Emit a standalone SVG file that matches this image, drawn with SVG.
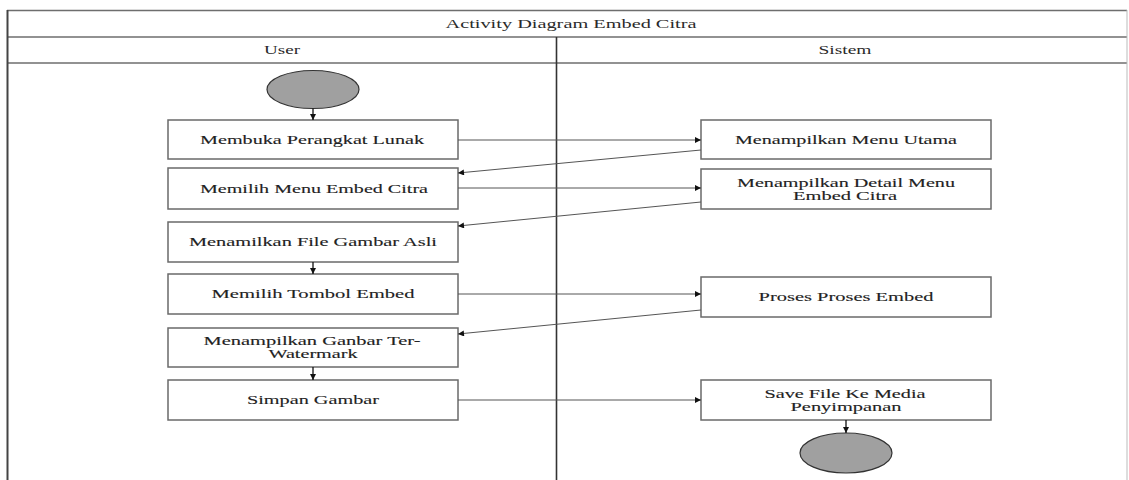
<svg xmlns="http://www.w3.org/2000/svg" width="1129" height="480" viewBox="0 0 1129 480">
<style>
.frame{fill:none;stroke:#6e6e6e;stroke-width:1.5}
.box{fill:#fff;stroke:#6a6a6a;stroke-width:1.5}
.dot{fill:#a0a0a0;stroke:#333;stroke-width:1.2}
.t{font-family:"Liberation Serif","Times New Roman",serif;font-size:13px;fill:#222;stroke:#222;stroke-width:0.12;text-anchor:middle}
.t2{font-size:12px}
.h{font-family:"Liberation Serif","Times New Roman",serif;font-size:12.5px;fill:#2a2a2a;text-anchor:middle}
.c{fill:none;stroke:#555;stroke-width:1}
.v{fill:none;stroke:#111;stroke-width:1.3}
</style>
<defs>
<marker id="ah" viewBox="0 0 10 10" refX="10" refY="5" markerWidth="9" markerHeight="6" markerUnits="userSpaceOnUse" orient="auto">
<path d="M0,0 L10,5 L0,10 z" fill="#111"/>
</marker>
</defs>
<rect width="1129" height="480" fill="#fff"/>
<g id="frame">
<line class="frame" x1="7" y1="10.5" x2="1127" y2="10.5"/>
<line class="frame" x1="7" y1="37" x2="1127" y2="37"/>
<line class="frame" x1="7" y1="63" x2="1127" y2="63"/>
<line x1="7.5" y1="10" x2="7.5" y2="480" stroke="#444" stroke-width="2"/>
<line x1="1127" y1="10" x2="1127" y2="480" stroke="#bbb" stroke-width="1"/>
<line x1="556.5" y1="37" x2="556.5" y2="480" stroke="#333" stroke-width="1.6"/>
<text class="h" x="571" y="28" textLength="251" lengthAdjust="spacingAndGlyphs">Activity Diagram Embed Citra</text>
<text class="h" x="282" y="54" textLength="36" lengthAdjust="spacingAndGlyphs">User</text>
<text class="h" x="845" y="54" textLength="53" lengthAdjust="spacingAndGlyphs">Sistem</text>
</g>
<g id="start"><ellipse class="dot" cx="313" cy="89.5" rx="46" ry="19"/></g>
<g id="n1"><rect class="box" x="168" y="120" width="290" height="39"/><text class="t" x="312" y="143.5" textLength="224" lengthAdjust="spacingAndGlyphs">Membuka Perangkat Lunak</text></g>
<g id="n2"><rect class="box" x="168" y="168" width="290" height="41"/><text class="t" x="314" y="193" textLength="228" lengthAdjust="spacingAndGlyphs">Memilih Menu Embed Citra</text></g>
<g id="n3"><rect class="box" x="168" y="222" width="290" height="40"/><text class="t" x="313" y="246" textLength="248" lengthAdjust="spacingAndGlyphs">Menamilkan File Gambar Asli</text></g>
<g id="n4"><rect class="box" x="168" y="274" width="290" height="40"/><text class="t" x="313" y="298" textLength="203" lengthAdjust="spacingAndGlyphs">Memilih Tombol Embed</text></g>
<g id="n5"><rect class="box" x="168" y="328" width="290" height="39"/><text class="t t2" x="312" y="344.5" textLength="217" lengthAdjust="spacingAndGlyphs">Menampilkan Ganbar Ter-</text><text class="t t2" x="313" y="358" textLength="89" lengthAdjust="spacingAndGlyphs">Watermark</text></g>
<g id="n6"><rect class="box" x="168" y="380" width="290" height="40"/><text class="t" x="313" y="404" textLength="132" lengthAdjust="spacingAndGlyphs">Simpan Gambar</text></g>
<g id="s1"><rect class="box" x="701" y="120" width="290" height="39"/><text class="t" x="846" y="143.5" textLength="222" lengthAdjust="spacingAndGlyphs">Menampilkan Menu Utama</text></g>
<g id="s2"><rect class="box" x="701" y="169" width="290" height="40"/><text class="t t2" x="846" y="186.5" textLength="218" lengthAdjust="spacingAndGlyphs">Menampilkan Detail Menu</text><text class="t t2" x="845" y="200" textLength="104" lengthAdjust="spacingAndGlyphs">Embed Citra</text></g>
<g id="s3"><rect class="box" x="701" y="277" width="290" height="40"/><text class="t" x="846" y="301" textLength="175" lengthAdjust="spacingAndGlyphs">Proses Proses Embed</text></g>
<g id="s4"><rect class="box" x="701" y="380" width="290" height="40"/><text class="t t2" x="845" y="397.5" textLength="161" lengthAdjust="spacingAndGlyphs">Save File Ke Media</text><text class="t t2" x="846" y="411" textLength="111" lengthAdjust="spacingAndGlyphs">Penyimpanan</text></g>
<g id="end"><ellipse class="dot" cx="846" cy="453" rx="46" ry="20"/></g>
<g id="connectors">
<line class="v" x1="313" y1="108.5" x2="313" y2="120" marker-end="url(#ah)"/>
<line class="v" x1="313" y1="262" x2="313" y2="274" marker-end="url(#ah)"/>
<line class="v" x1="313" y1="367" x2="313" y2="380" marker-end="url(#ah)"/>
<line class="v" x1="846" y1="420" x2="846" y2="433" marker-end="url(#ah)"/>
<line class="c" x1="458" y1="140" x2="701" y2="140" marker-end="url(#ah)"/>
<line class="c" x1="701" y1="150" x2="458" y2="173" marker-end="url(#ah)"/>
<line class="c" x1="458" y1="188" x2="701" y2="188" marker-end="url(#ah)"/>
<line class="c" x1="701" y1="202" x2="458" y2="226" marker-end="url(#ah)"/>
<line class="c" x1="458" y1="294" x2="701" y2="294" marker-end="url(#ah)"/>
<line class="c" x1="701" y1="310" x2="458" y2="334" marker-end="url(#ah)"/>
<line class="c" x1="458" y1="400" x2="701" y2="400" marker-end="url(#ah)"/>
</g>
</svg>
